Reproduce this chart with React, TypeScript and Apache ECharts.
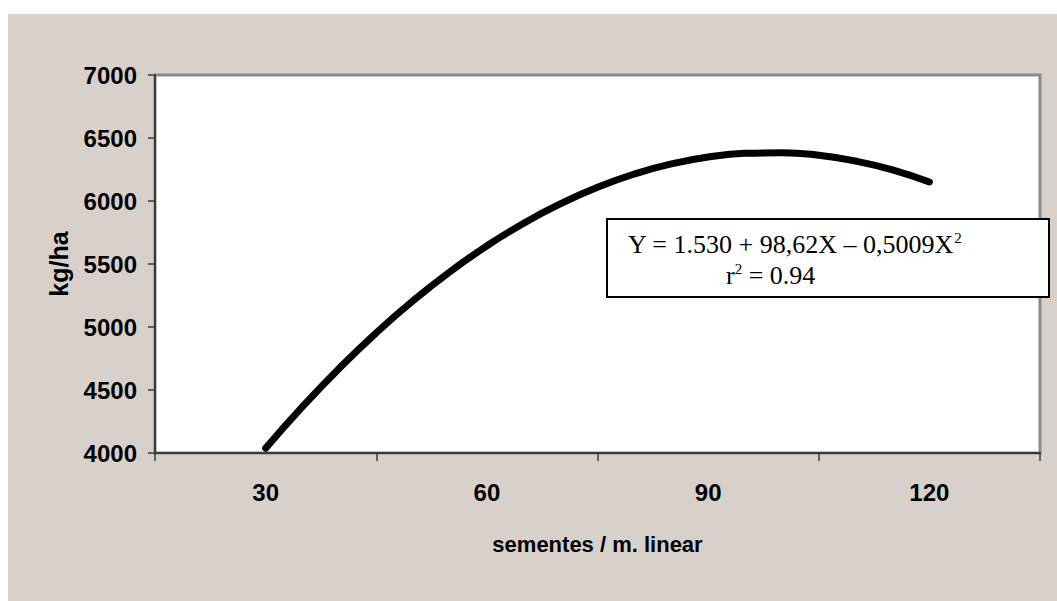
import React, { useEffect, useRef } from "react";
import * as echarts from "echarts";

// Category labels of the x axis (Excel-style: labels between ticks)
const xCategories = ["30", "60", "90", "120"];
// Curve points: seeds per linear metre and yield (kg/ha)
const seedsX = [30, 35, 40, 45, 50, 55, 60, 65, 70, 75, 80, 85, 90, 95, 100, 105, 110, 115, 120];
const yieldKg = [4038, 4368, 4673, 4954, 5209, 5439, 5644, 5824, 5979, 6109, 6214, 6294, 6349, 6378, 6383, 6363, 6317, 6247, 6151];
// Y axis range
const yMin = 4000;
const yMax = 7000;
const yStep = 500;
// Texts
const xName = "sementes / m. linear";
const yName = "kg/ha";
const eqLine1 = "Y = 1.530 + 98,62X – 0,5009X";
const eqLine2 = "r";

const BG = "#d8d0ca";
const SANS = "Liberation Sans, Arial, sans-serif";
const SERIF = "Liberation Serif, Times New Roman, serif";

export default function App() {
  const ref = useRef<HTMLDivElement>(null);

  useEffect(() => {
    if (!ref.current) return;
    const chart = echarts.init(ref.current, undefined, { renderer: "svg" });
    const points = seedsX.map((x, i) => [x, yieldKg[i]]);
    const richEq = {
      m: { fontFamily: SERIF, fontSize: 26, fill: "#000", lineHeight: 28, verticalAlign: "middle" },
      s: { fontFamily: SERIF, fontSize: 15, fill: "#000", lineHeight: 28, verticalAlign: "top" },
    };
    chart.setOption({
      animation: false,
      backgroundColor: BG,
      grid: {
        left: 147,
        top: 61,
        width: 885,
        height: 378,
        show: true,
        backgroundColor: "#ffffff",
        borderColor: "#8a8a8a",
        borderWidth: 3,
      },
      xAxis: [
        {
          type: "category",
          data: xCategories,
          boundaryGap: true,
          name: xName,
          nameLocation: "middle",
          nameGap: 80,
          nameTextStyle: { fontFamily: SANS, fontWeight: "bold", fontSize: 22, color: "#000" },
          axisLine: { show: true, lineStyle: { color: "#3a3a3a", width: 2 } },
          axisTick: { show: true, length: 8, lineStyle: { color: "#3a3a3a", width: 1.5 } },
          axisLabel: { margin: 27, fontFamily: SANS, fontWeight: "bold", fontSize: 24, color: "#000" },
          splitLine: { show: false },
        },
        {
          type: "value",
          min: 15,
          max: 135,
          interval: 15,
          show: false,
          splitLine: { show: false },
        },
      ],
      yAxis: {
        type: "value",
        min: yMin,
        max: yMax,
        interval: yStep,
        name: yName,
        nameLocation: "middle",
        nameGap: 84,
        nameRotate: 90,
        nameTextStyle: { fontFamily: SANS, fontWeight: "bold", fontSize: 25, color: "#000" },
        axisLine: { show: true, lineStyle: { color: "#3a3a3a", width: 2 } },
        axisTick: { show: true, length: 7, lineStyle: { color: "#3a3a3a", width: 1.5 } },
        axisLabel: {
          margin: 18,
          fontFamily: SANS,
          fontWeight: "bold",
          fontSize: 24,
          color: "#000",
          formatter: (v: number) => String(v),
        },
        splitLine: { show: false },
      },
      series: [
        {
          type: "line",
          xAxisIndex: 1,
          data: points,
          smooth: true,
          symbol: "none",
          lineStyle: { color: "#000", width: 7, cap: "round", join: "round" },
        },
      ],
      graphic: [
        {
          type: "rect",
          left: 598,
          top: 204,
          shape: { width: 442, height: 78 },
          style: { fill: "#ffffff", stroke: "#000", lineWidth: 2 },
          z: 100,
        },
        {
          type: "text",
          x: 620,
          y: 230,
          z: 101,
          style: {
            text: "{m|" + eqLine1 + "}{s|2}",
            verticalAlign: "middle",
            rich: richEq,
          },
        },
        {
          type: "text",
          x: 718,
          y: 261,
          z: 101,
          style: {
            text: "{m|" + eqLine2 + "}{s|2}{m| = 0.94}",
            verticalAlign: "middle",
            rich: richEq,
          },
        },
      ],
    });
    return () => chart.dispose();
  }, []);

  return (
    <div
      ref={ref}
      style={{ position: "absolute", left: 8, top: 14, width: 1049, height: 587 }}
    />
  );
}
